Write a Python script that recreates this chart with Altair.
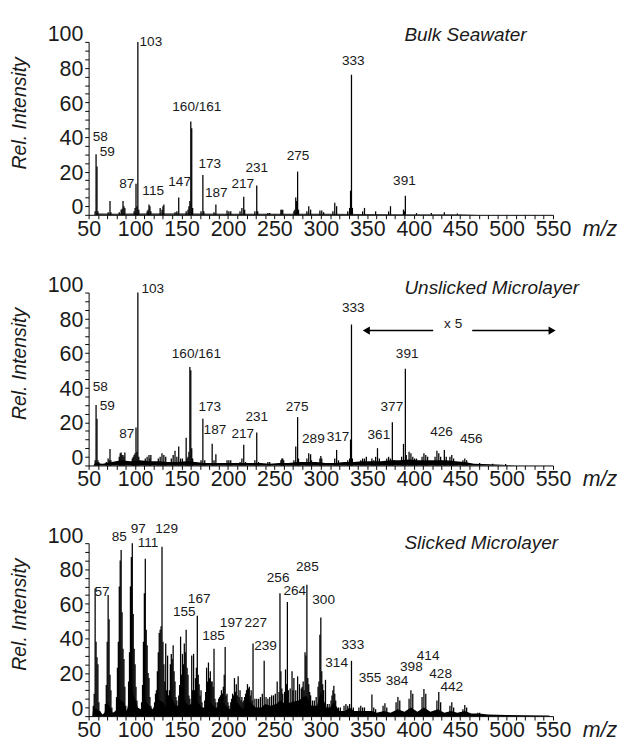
import altair as alt
import pandas as pd

FONT = "Liberation Sans"
X_DOMAIN = [50, 550]
Y_DOMAIN = [0, 100]

# ---------------- Bulk Seawater ----------------
bulk_mz = [57, 58, 59, 60, 71, 73, 74, 83, 85, 86, 87, 88, 89, 99, 100, 101, 102, 103, 104,
           113, 114, 115, 116, 117, 127, 129, 130, 131, 143, 145, 147, 155, 157, 158, 159, 160,
           161, 162, 171, 173, 174, 185, 187, 199, 201, 203, 213, 215, 217, 218, 229, 231, 232,
           243, 245, 257, 258, 259, 271, 272, 273, 274, 275, 276, 285, 287, 289, 299, 301, 303,
           313, 315, 317, 329, 331, 332, 333, 334, 345, 347, 359, 373, 375, 389, 390, 391, 403,
           419, 433, 447]
bulk_int = [2, 35, 28, 2, 1.5, 8, 1.5, 1.5, 3, 3.5, 8, 5, 4, 2, 4, 18, 5, 100, 3,
            2, 3, 6, 5, 2, 4, 3, 5, 6, 1.5, 2, 10, 2, 3, 5, 8, 54,
            50, 4, 2, 23, 2, 1.5, 6, 2.5, 2, 2, 2, 4, 10.5, 3, 2, 17, 2,
            1, 1, 3, 3, 3, 2, 3, 10, 8, 25, 3, 2, 5, 3, 2.5, 2.5, 1.5,
            2, 7, 5, 2, 4, 14, 81, 4, 2, 4, 2, 2, 5, 3, 2, 11, 1,
            1, 1.5, 0.8]
bulk_labels = ["103", "333", "160/161", "58", "59", "87", "115", "147", "173", "187", "217",
               "231", "275", "391"]
bulk_lab_x = [117, 335, 166.5, 62.5, 70, 91, 119.5, 148, 180.5, 187.5, 216, 231, 275.5, 390]
bulk_lab_y = [100, 89, 62.5, 45, 36, 18, 14, 19, 29.5, 12.5, 17.5, 27, 34, 19.5]
bulk_base_mz = [55, 60, 80, 100, 150, 200, 250, 300, 350, 400, 450, 470]
bulk_base_int = [0, 0.8, 0.6, 0.8, 0.7, 0.6, 0.6, 0.6, 0.5, 0.4, 0.3, 0]

# ---------------- Unslicked Microlayer ----------------
uns_mz = [57, 58, 59, 60, 61, 69, 71, 72, 73, 74, 83, 84, 85, 86, 87, 88, 89, 97, 98, 99, 100,
          101, 102, 103, 104, 111, 113, 115, 116, 117, 125, 127, 129, 131, 133, 139, 141, 143,
          145, 147, 149, 151, 155, 156, 157, 158, 159, 160, 161, 162, 171, 173, 175, 183, 185,
          187, 199, 201, 203, 213, 215, 217, 219, 229, 231, 233, 243, 245, 257, 258, 259, 260,
          271, 273, 275, 276, 285, 287, 289, 290, 299, 300, 301, 315, 317, 319, 329, 331, 332,
          333, 334, 343, 345, 347, 349, 355, 357, 359, 361, 363, 371, 373, 375, 377, 379, 387,
          389, 391, 392, 395, 397, 399, 401, 403, 409, 411, 413, 415, 423, 425, 427, 429, 433,
          435, 439, 441, 443, 453, 455, 457, 471, 485, 499]
uns_int = [3, 35, 27, 3, 2, 2, 4, 3, 9.5, 3, 5, 7, 7.5, 6, 6, 5, 7.5, 4, 5, 6, 7,
           22, 8, 100, 5, 4, 5, 6, 4, 6, 4, 5, 7, 6, 5, 4, 6, 8.5,
           5, 11, 4, 4, 16, 4, 5, 8, 57, 55, 10, 4, 3, 27, 3, 12.5, 3,
           6.5, 3, 3, 3, 2, 4, 12, 2, 3, 19, 2, 2, 2, 3, 4, 4, 3,
           3, 11, 28, 4, 4, 7, 6.5, 3, 4, 5.5, 4, 4, 9, 3, 3, 4, 15,
           81.5, 4, 3, 4, 4, 5, 4, 3, 5, 10, 4, 4, 5, 4, 25, 3, 5,
           12.5, 56, 6, 8, 7, 5, 4, 4, 5, 7, 6, 5, 5, 8.5, 7, 5, 9,
           5, 5, 6, 4, 3, 4, 3, 1.5, 1, 0.8]
uns_labels = ["103", "333", "160/161", "58", "59", "87", "173", "187", "217", "231", "275",
              "289", "317", "361", "377", "391", "426", "456"]
uns_lab_x = [119, 335, 166, 62.5, 70, 91, 180.5, 186, 216, 231, 274.5, 292, 318.5, 362.5,
             376.5, 393, 430, 462]
uns_lab_y = [102, 91, 64.5, 45.5, 34.5, 18, 34, 20.5, 18, 28, 34, 15, 16.5, 17.5, 34, 64.5,
             19.5, 15]
uns_base_mz = [55, 57, 65, 75, 85, 95, 105, 115, 125, 135, 145, 155, 165, 175, 185, 195, 205,
               215, 225, 235, 245, 255, 265, 275, 285, 295, 305, 315, 325, 335, 345, 355, 365,
               375, 385, 395, 405, 415, 425, 435, 445, 455, 465, 475, 490, 500, 510]
uns_base_int = [0, 1.5, 1, 2, 3, 2.5, 3, 2.5, 2.5, 2, 2, 2.5, 2, 1.5, 1.5, 1.5, 1.5,
                1.5, 1.5, 1.5, 1, 1.5, 1.5, 2, 2, 2, 1.5, 1.5, 2, 2, 2.5, 2.5, 2.5,
                3, 3, 3.5, 3, 3, 3, 3, 2.5, 2, 1, 0.8, 0.5, 0.3, 0]

# ---------------- Slicked Microlayer ----------------
sl_mz = [55, 56, 57, 58, 59, 60, 61, 62,
         68, 69, 70, 71, 72, 73, 74, 75,
         80, 81, 82, 83, 84, 85, 86, 87, 88, 89, 90,
         93, 94, 95, 96, 97, 98, 99, 100, 101, 102,
         107, 108, 109, 110, 111, 112, 113, 114, 115, 116, 117,
         121, 122, 123, 124, 125, 126, 127, 128, 129, 130, 131, 132, 133, 134,
         135, 136, 137, 138, 139, 140, 141, 142, 143, 144, 145,
         147, 148, 149, 150, 151, 152, 153, 154, 155, 156, 157, 158,
         159, 161, 162, 163, 164, 165, 166, 167, 168, 169, 170, 171, 172,
         175, 176, 177, 178, 179, 180, 181, 182, 183, 184, 185, 186, 187,
         189, 190, 191, 192, 193, 194, 195, 196, 197, 198, 199, 200, 201,
         203, 204, 205, 206, 207, 208, 209, 210, 211, 212, 213, 214, 215, 216,
         217, 218, 219, 220, 221, 222, 223, 224, 225, 226,
         227, 229, 231, 233, 235, 237, 239, 241, 243, 245, 247, 249, 251, 253, 255,
         256, 257, 258, 259, 261, 262, 263, 264, 265, 267, 269, 270, 271, 273, 275, 277,
         279, 280, 281, 282, 283, 284, 285, 286, 287, 288, 289, 291, 293, 295,
         297, 298, 299, 300, 301, 302, 303, 305, 307, 309, 311, 312, 313, 314, 315, 316,
         319, 321, 325, 327, 329, 331, 333, 335,
         341, 343, 345, 347, 355, 357, 359, 367, 369, 371, 381, 383, 385, 395, 397, 399,
         409, 411, 413, 425, 427, 429, 439, 441, 443, 453, 455, 457, 469, 471]
sl_int = [6, 13, 74, 43, 34, 30, 8, 3,
          7, 18, 43, 70, 56, 24, 15, 5,
          11, 28, 43, 75, 90, 96, 60, 39, 33, 17, 6,
          20, 37, 75, 92, 100, 59, 39, 30, 17, 9,
          8, 18, 43, 71, 91, 50, 41, 25, 22, 11, 6,
          8, 13, 15, 26, 37, 48, 50, 52, 98, 43, 30, 20, 42, 15,
          35, 12, 15, 30, 36, 33, 41, 26, 20, 11, 9,
          12, 18, 46, 24, 36, 30, 42, 37, 50, 28, 24, 12,
          10, 35, 15, 36, 15, 22, 28, 58, 24, 18.5, 12, 15, 8,
          9, 14, 28, 20, 31, 22, 26, 20, 20, 17, 39, 10, 8,
          8, 10, 11, 12, 15, 13, 17, 24, 40, 12, 13, 8, 6,
          8, 10, 13, 12, 22, 14, 18.5, 12, 23, 11, 15, 9, 11, 8,
          9, 11, 13, 15, 18.5, 16, 17, 12, 15, 9,
          42, 10, 10, 10, 11, 13, 32, 11, 10, 11, 12, 12, 13, 20, 14,
          71, 26, 16, 13, 14, 27, 18.5, 66, 15, 16, 26, 15, 22, 15, 23, 18.5,
          16, 17, 20, 15, 37, 35, 76, 22, 18.5, 14, 12, 9, 9, 11,
          17, 20, 47, 57, 26, 18.5, 15, 21, 7, 7, 9, 12, 15, 17.5, 13, 9,
          5, 5, 6, 7, 6, 7, 32, 5,
          5, 6, 5, 5, 12.5, 5, 4, 6, 7.5, 5, 8, 11, 9, 10, 15, 13,
          11, 15.7, 13, 9, 14, 8, 6, 8, 5, 4, 6.4, 5, 2, 2]
sl_labels = ["57", "85", "97", "111", "129", "155", "167", "185", "197", "227", "239", "256",
             "264", "285", "300", "314", "333", "355", "384", "398", "414", "428", "442"]
sl_lab_x = [64.5, 83, 103.5, 114, 134, 153, 169, 184.5, 203.5, 230, 240.5, 254, 272, 285.5,
            303, 317, 334.5, 353, 382, 397.5, 415.5, 429, 441]
sl_lab_y = [71.5, 103.5, 108, 100, 108, 60, 67.5, 46.5, 54, 53.5, 40.5, 80, 72.5, 86, 67,
            30.5, 41, 22, 20.5, 28.5, 34.5, 24.5, 17]
sl_base_mz = [54, 55, 62, 65, 67, 70, 76, 79, 82, 88, 91, 93, 97, 103, 106, 110, 115, 119, 124,
              130, 134, 138, 144, 147, 152, 158, 160, 166, 172, 175, 180, 186, 190, 195, 201,
              205, 210, 216, 220, 224, 230, 236, 240, 246, 252, 256, 262, 268, 276, 284, 290,
              296, 300, 306, 310, 314, 320, 326, 331, 336, 345, 355, 360, 368, 375, 383, 390,
              397, 404, 411, 418, 426, 433, 440, 447, 455, 462, 470, 480, 500, 520, 545, 548]
sl_base_int = [0, 5, 3, 1, 2, 8, 2, 3, 10, 8, 3, 8, 15, 5, 4, 10, 6, 4, 10,
               8, 5, 12, 6, 6, 10, 6, 7, 9, 5, 5, 9, 5, 5, 8, 4,
               5, 8, 4, 6, 8, 5, 5, 7, 6, 7, 9, 7, 8, 9, 12, 6,
               6, 14, 5, 5, 8, 3, 3, 5, 3, 3, 3, 2, 3, 2, 4, 2.5,
               5, 2.5, 5, 2.5, 4, 2, 3, 2, 3, 1.5, 1.5, 1, 0.7, 0.5, 0.4, 0]

# arrow annotation in the middle panel ("x 5")
arrow_x1 = [349, 463]
arrow_x2 = [421, 549]
arrow_y = 78
arrow_text = "x 5"
arrow_text_pos = [442.5, 81.5]

PANEL_TITLES = ["Bulk Seawater", "Unslicked Microlayer", "Slicked Microlayer"]
TITLE_X = 390
TITLE_Y = [104, 102.5, 100]

W, H = 478, 178
TICK_FONT = 22

xscale = alt.Scale(domain=X_DOMAIN, nice=False, zero=False)
yscale = alt.Scale(domain=Y_DOMAIN, nice=False, zero=False)

x_axis = alt.Axis(values=list(range(50, 551, 10)),
                  labelExpr="datum.value % 50 == 0 ? datum.label : ''",
                  labelOverlap=False, labelFlush=False, grid=False,
                  tickSize=4, tickColor="black", domainColor="black",
                  labelFont=FONT, labelFontSize=TICK_FONT, labelColor="#1a1a1a",
                  labelPadding=0,
                  title="m/z", titleFont=FONT, titleFontSize=TICK_FONT,
                  titleFontStyle="italic", titleFontWeight="normal", titleColor="#1a1a1a",
                  titleX=508, titleY=4, titleAlign="left", titleBaseline="top")
y_axis = alt.Axis(values=list(range(0, 101, 5)),
                  labelExpr="datum.value % 20 == 0 ? datum.label : ''",
                  labelOverlap=False, labelFlush=False, grid=False,
                  tickSize=4, tickColor="black", domainColor="black",
                  labelFont=FONT, labelFontSize=TICK_FONT, labelColor="#1a1a1a",
                  labelPadding=2, labelOffset=-8,
                  title="Rel. Intensity", titleFont=FONT, titleFontSize=20,
                  titleFontStyle="italic", titleFontWeight="normal", titleColor="#1a1a1a",
                  titleX=-61, titleY=73)


def X(field):
    return alt.X(field, scale=xscale, axis=x_axis)


def Y(field):
    return alt.Y(field, scale=yscale, axis=y_axis)


def panel(mz, inten, base_mz, base_int, labels, lab_x, lab_y, title, title_y, arrow=False):
    sticks_df = pd.DataFrame({"mz": mz, "val": inten, "zero": [0] * len(mz)})
    base_df = pd.DataFrame({"mz": base_mz, "val": base_int})
    lab_df = pd.DataFrame({"mz": lab_x, "val": lab_y, "t": labels})
    title_df = pd.DataFrame({"mz": [TITLE_X], "val": [title_y], "t": [title]})

    sticks = alt.Chart(sticks_df).mark_rule(color="black", strokeWidth=1.3).encode(
        x=X("mz:Q"), y=Y("val:Q"), y2="zero:Q",
    )
    base = alt.Chart(base_df).mark_area(color="black", interpolate="linear").encode(
        x=X("mz:Q"), y=Y("val:Q"),
    )
    labs = alt.Chart(lab_df).mark_text(font=FONT, fontSize=14, color="#1a1a1a",
                                       align="center", baseline="middle").encode(
        x=X("mz:Q"), y=Y("val:Q"), text="t:N",
    )
    ttl = alt.Chart(title_df).mark_text(font=FONT, fontSize=19.5, fontStyle="italic",
                                        color="#1a1a1a", align="left",
                                        baseline="middle").encode(
        x=X("mz:Q"), y=Y("val:Q"), text="t:N",
    )
    layers = [sticks, base, labs, ttl]
    if arrow:
        adf = pd.DataFrame({"mz": arrow_x1, "mz2": arrow_x2, "val": [arrow_y] * 2})
        lines = alt.Chart(adf).mark_rule(color="black", strokeWidth=1.5).encode(
            x=X("mz:Q"), x2="mz2:Q", y=Y("val:Q"),
        )
        hdf = pd.DataFrame({"mz": [arrow_x1[0], arrow_x2[1]], "val": [arrow_y] * 2,
                            "s": ["triangle-left", "triangle-right"]})
        heads = alt.Chart(hdf).mark_point(filled=True, color="black", size=70,
                                          opacity=1).encode(
            x=X("mz:Q"), y=Y("val:Q"),
            shape=alt.Shape("s:N", scale=alt.Scale(domain=["triangle-left", "triangle-right"],
                                                   range=["triangle-left", "triangle-right"]),
                            legend=None),
        )
        tdf = pd.DataFrame({"mz": [arrow_text_pos[0]], "val": [arrow_text_pos[1]],
                            "t": [arrow_text]})
        txt = alt.Chart(tdf).mark_text(font=FONT, fontSize=14, color="#1a1a1a",
                                       baseline="middle").encode(
            x=X("mz:Q"), y=Y("val:Q"), text="t:N",
        )
        layers += [lines, heads, txt]
    return alt.layer(*layers).properties(width=W, height=H)


p1 = panel(bulk_mz, bulk_int, bulk_base_mz, bulk_base_int, bulk_labels, bulk_lab_x,
           bulk_lab_y, PANEL_TITLES[0], TITLE_Y[0])
p2 = panel(uns_mz, uns_int, uns_base_mz, uns_base_int, uns_labels, uns_lab_x, uns_lab_y,
           PANEL_TITLES[1], TITLE_Y[1], arrow=True)
p3 = panel(sl_mz, sl_int, sl_base_mz, sl_base_int, sl_labels, sl_lab_x, sl_lab_y,
           PANEL_TITLES[2], TITLE_Y[2])

chart = alt.vconcat(p1, p2, p3, spacing=80, bounds="flush").properties(
    padding={"left": 2, "top": 5, "right": 5, "bottom": 0},
    background="white",
).configure_view(strokeWidth=0)

chart.save("out.html", embed_options={"renderer": "svg", "actions": False})
